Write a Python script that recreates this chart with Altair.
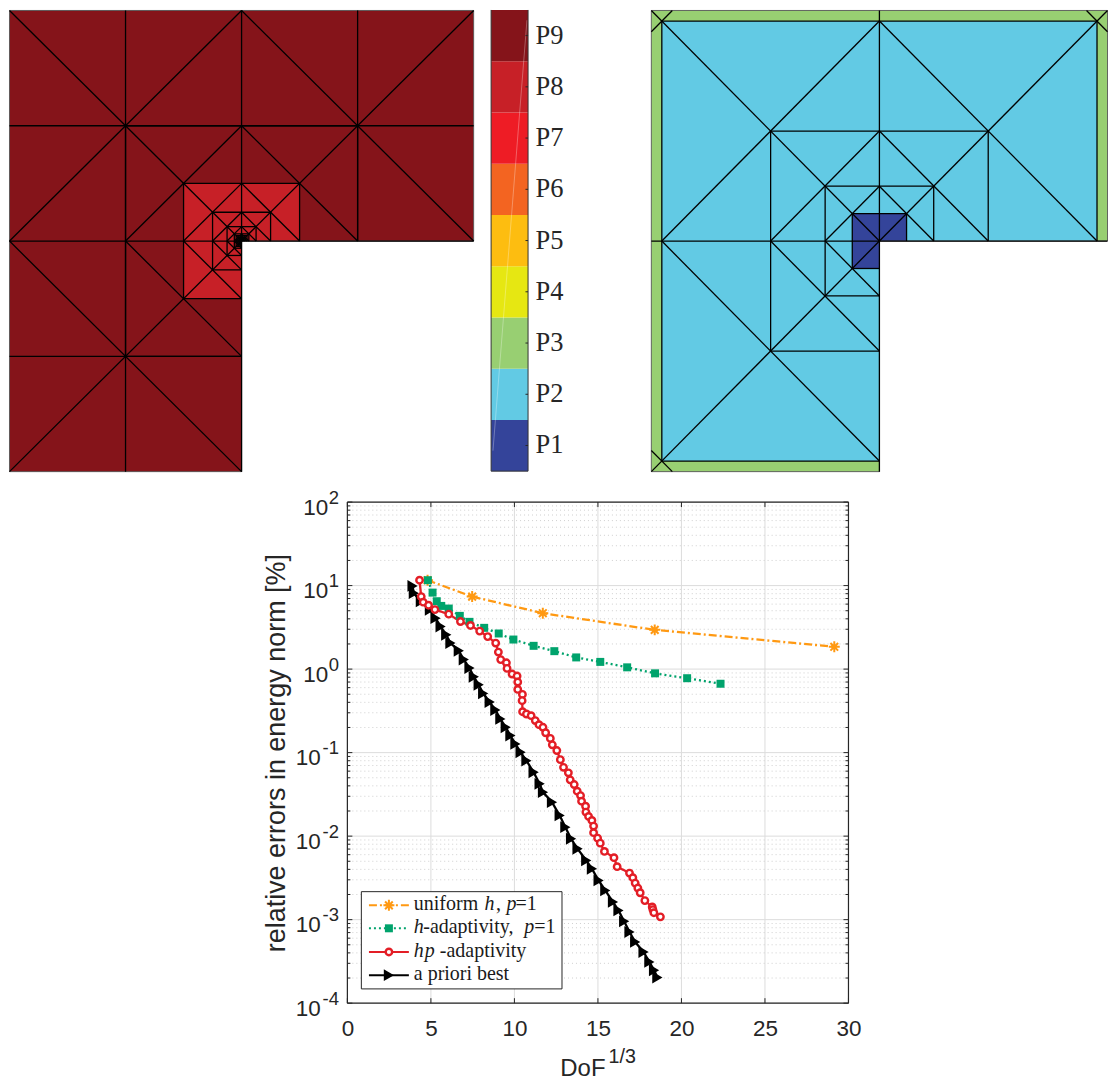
import altair as alt
import pandas as pd

# ---------- values ----------
uniform_x = [4.8, 7.47, 11.7, 18.4, 29.15]
uniform_y = [11.6, 7.38, 4.67, 2.95, 1.85]

hadapt_x = [4.82, 5.10, 5.35, 5.62, 6.07, 6.73, 7.31, 8.19, 9.06, 9.94, 11.15, 12.39, 13.70, 15.14, 16.75, 18.42, 20.34, 22.34]
hadapt_y = [11.6, 8.24, 6.50, 5.71, 5.31, 4.34, 3.68, 3.12, 2.67, 2.26, 1.90, 1.64, 1.38, 1.22, 1.05, 0.89, 0.778, 0.668]

hp_x = [4.32, 4.42, 4.54, 4.86, 5.24, 6.07, 6.77, 7.37, 7.92, 8.40, 8.88, 9.04, 9.18, 9.52, 9.56, 9.86, 10.16, 10.20, 10.20, 10.48,
        10.46, 10.49, 10.72, 11.00, 11.25, 11.47, 11.71, 11.87, 12.15, 12.27, 12.54, 12.75, 12.94, 13.23, 13.34, 13.58, 13.76, 13.96, 14.02, 14.26,
        14.28, 14.44, 14.64, 14.74, 14.74, 14.98, 15.14, 15.39, 15.96, 16.15, 16.89, 17.09, 17.23, 17.39, 17.53, 17.81, 18.25, 18.29, 18.35, 18.74]
hp_y = [11.6, 7.38, 6.33, 5.82, 5.16, 4.55, 3.71, 3.33, 2.85, 2.45, 2.05, 1.60, 1.30, 1.19, 1.02, 0.873, 0.826, 0.700, 0.571, 0.498,
        0.419, 0.309, 0.290, 0.277, 0.242, 0.216, 0.201, 0.173, 0.148, 0.124, 0.106, 0.0824, 0.0667, 0.0573, 0.0472, 0.0415, 0.0345, 0.0306, 0.0262, 0.0228,
        0.0194, 0.0172, 0.0154, 0.0132, 0.0110, 0.00946, 0.00824, 0.00656, 0.00552, 0.00431, 0.00361, 0.00318, 0.00274, 0.00239, 0.00210, 0.00169, 0.00142, 0.00132, 0.00121, 0.00108]

best_x = [3.90, 3.98, 4.40, 4.94, 5.28, 5.58, 5.92, 6.17, 6.67, 6.97, 7.31, 7.57, 7.86, 8.13, 8.52, 8.86, 9.16, 9.48, 9.76, 10.06, 10.37, 10.72,
          11.15, 11.51, 11.71, 12.25, 12.71, 13.05, 13.39, 13.78, 14.30, 14.64, 15.04, 15.44, 15.90, 16.23, 16.57, 16.89, 17.23, 17.73, 18.08, 18.36, 18.56]
best_y = [9.91, 8.11, 6.47, 5.12, 4.07, 3.24, 2.57, 2.05, 1.66, 1.30, 1.03, 0.809, 0.650, 0.512, 0.404, 0.324, 0.253, 0.201, 0.160, 0.127, 0.101, 0.0802,
          0.0582, 0.0423, 0.0336, 0.0255, 0.0177, 0.0128, 0.00931, 0.00706, 0.00512, 0.00407, 0.00295, 0.00224, 0.00163, 0.00129, 0.000955, 0.000711, 0.000541, 0.000410, 0.000312, 0.000248, 0.000203]

x_ticks = [0, 5, 10, 15, 20, 25, 30]
y_decades = [2, 1, 0, -1, -2, -3, -4]
minor_mult = [2, 3, 4, 5, 6, 7, 8, 9]

band_labels = ["P1", "P2", "P3", "P4", "P5", "P6", "P7", "P8", "P9"]
band_colors = ["#34449A", "#62CAE4", "#98CF72", "#E6E712", "#FDBD10", "#F36421", "#EE1C25", "#C72027", "#85141A"]

mesh1_levels = [1, 0.5, 0.25, 0.125, 0.0625, 0.03125, 0.0234, 0.0156, 0.0098, 0.0056, 0.0029]
mesh1_red_level = 0.25
mesh2_levels = [0.954, 0.477, 0.238, 0.119]

ORANGE, GREEN, RED, BLACK = "#FF9912", "#00A36C", "#E31E26", "#000000"
DARK = "#262626"
GRID = "#DCDCDC"
SANS = "Liberation Sans"
SERIF = "Liberation Serif"
STAR = "M0,-1L0,1M-1,0L1,0M-0.7,-0.7L0.7,0.7M-0.7,0.7L0.7,-0.7"

# ---------- layout (pixels) ----------
MESH1_W = 466
MESH2_W = 458
TOP_H = 463
PLOT = 502


def seg(x, y, x2, y2):
    return {"x": x, "y": y, "x2": x2, "y2": y2}


def level_segments(s, box=True, anti=True):
    out = []
    if box:
        out += [seg(-s, s, -s, -s), seg(-s, s, s, s), seg(s, s, s, 0), seg(-s, -s, 0, -s)]
    if anti:
        out += [seg(-s, 0, 0, s), seg(0, s, s, 0), seg(-s, 0, 0, -s)]
    return out


def l_rects(s, color):
    return [{"x": -s, "x2": s, "y": 0, "y2": s, "c": color},
            {"x": -s, "x2": 0, "y": -s, "y2": 0, "c": color}]


OUTLINE = [seg(-1, 1, 1, 1), seg(1, 1, 1, 0), seg(1, 0, 0, 0), seg(0, 0, 0, -1), seg(0, -1, -1, -1), seg(-1, -1, -1, 1)]
SPINES = [seg(0, 1, 0, -1), seg(-1, 0, 1, 0), seg(-1, 1, 0, 0), seg(1, 1, 0, 0), seg(-1, -1, 0, 0)]


def mesh(rects, segs, width):
    xs = alt.Scale(domain=[-1, 1], range=[0.5, width - 0.5], nice=False)
    ys = alt.Scale(domain=[-1, 1], range=[TOP_H - 0.5, 0.5], nice=False)
    fill = alt.Chart(pd.DataFrame(rects)).mark_rect().encode(
        x=alt.X("x:Q", scale=xs, axis=None), x2="x2:Q",
        y=alt.Y("y:Q", scale=ys, axis=None), y2="y2:Q",
        color=alt.Color("c:N", scale=None))
    outline = alt.Chart(pd.DataFrame(OUTLINE)).mark_rule(color="#555555", strokeWidth=0.9).encode(
        x=alt.X("x:Q", scale=xs, axis=None), x2="x2:Q",
        y=alt.Y("y:Q", scale=ys, axis=None), y2="y2:Q")
    lines = alt.Chart(pd.DataFrame(segs)).mark_rule(color="#000000", strokeWidth=1.3).encode(
        x=alt.X("x:Q", scale=xs, axis=None), x2="x2:Q",
        y=alt.Y("y:Q", scale=ys, axis=None), y2="y2:Q")
    return alt.layer(fill, outline, lines).properties(width=width, height=TOP_H)


# left mesh
segs1 = list(SPINES)
segs1 += [seg(-0.5, 1, -0.5, -1), seg(0.5, 1, 0.5, 0), seg(-1, 0.5, 1, 0.5), seg(-1, -0.5, 0, -0.5)]
for s in mesh1_levels:
    segs1 += level_segments(s, box=s < 1)
mesh1 = mesh(l_rects(1, band_colors[8]) + l_rects(mesh1_red_level, band_colors[7]), segs1, MESH1_W)

# right mesh
a = mesh2_levels[0]
c = 2 * a - 1
segs2 = list(SPINES)
segs2 += [seg(-1, c, -c, 1), seg(1, c, c, 1), seg(-1, -c, -c, -1)]
for s in mesh2_levels:
    segs2 += level_segments(s, anti=s != mesh2_levels[-1])
mesh2 = mesh(l_rects(1, band_colors[2]) + l_rects(a, band_colors[1]) + l_rects(mesh2_levels[-1], band_colors[0]), segs2, MESH2_W)

# colour bar
bands = pd.DataFrame({"y": range(9), "y2": range(1, 10), "mid": [i + 0.5 for i in range(9)],
                      "label": band_labels, "c": band_colors, "x": [0] * 9, "x2": [1] * 9, "tx": [1.2] * 9, "t": [0.93] * 9})
cx = alt.Scale(domain=[0, 1], range=[0, 37], nice=False)
cy = alt.Scale(domain=[0, 9], range=[462, 0], nice=False)
cb_rect = alt.Chart(bands).mark_rect().encode(
    x=alt.X("x:Q", scale=cx, axis=None), x2="x2:Q",
    y=alt.Y("y:Q", scale=cy, axis=None), y2="y2:Q", color=alt.Color("c:N", scale=None))
cb_tick = alt.Chart(bands).mark_rule(color=DARK, strokeWidth=1).encode(
    x=alt.X("t:Q", scale=cx, axis=None), x2="x2:Q", y=alt.Y("mid:Q", scale=cy, axis=None))
cb_text = alt.Chart(bands).mark_text(align="left", baseline="middle", font=SERIF, fontSize=26.5, color=DARK).encode(
    x=alt.X("tx:Q", scale=cx, axis=None), y=alt.Y("mid:Q", scale=cy, axis=None), text="label:N")
cb_frame = alt.Chart(pd.DataFrame([
    {"x": 0, "x2": 1, "y": 0, "y2": 0}, {"x": 0, "x2": 0, "y": 0, "y2": 9}, {"x": 1, "x2": 1, "y": 0, "y2": 9}
])).mark_rule(color="#333333", strokeWidth=1).encode(
    x=alt.X("x:Q", scale=cx, axis=None), x2="x2:Q", y=alt.Y("y:Q", scale=cy, axis=None), y2="y2:Q")
cb_streak = alt.Chart(pd.DataFrame([{"x": 0.97, "x2": 0.05, "y": 8.8, "y2": 0.4}])).mark_rule(
    color="#FFFFFF", opacity=0.3, strokeWidth=1).encode(
    x=alt.X("x:Q", scale=cx, axis=None), x2="x2:Q", y=alt.Y("y:Q", scale=cy, axis=None), y2="y2:Q")
colorbar = alt.layer(cb_rect, cb_streak, cb_frame, cb_tick, cb_text).properties(width=142.7, height=TOP_H)

# ---------- convergence plot ----------
X = alt.Scale(domain=[0, 30], nice=False)
Y = alt.Scale(type="log", domain=[1e-4, 100], nice=False)
AX_X = alt.Axis(title=None, values=x_ticks, labelFont=SANS, labelFontSize=22.5, labelColor=DARK, labelBaseline="alphabetic",
                labelPadding=32, labelFlush=False, domain=False, ticks=False, grid=False, format="d")
AX_Y = alt.Axis(title="relative errors in energy norm [%]", titleFont=SANS, titleFontSize=27, titleFontWeight="normal",
                titleColor=DARK, titlePadding=57, labels=False, domain=False, ticks=False, grid=False)


def xenc(f="x"):
    return alt.X(f"{f}:Q", scale=X, axis=AX_X)


def yenc(f="y"):
    return alt.Y(f"{f}:Q", scale=Y, axis=AX_Y)


majors = [10.0 ** e for e in y_decades]
minors = [m * 10.0 ** e for e in y_decades[1:] for m in minor_mult]
major_df = pd.DataFrame({"y": majors})
minor_df = pd.DataFrame({"y": minors})
xt_df = pd.DataFrame({"x": x_ticks})

grid_x = alt.Chart(xt_df).mark_rule(color=GRID, strokeWidth=1).encode(x=xenc())
grid_y = alt.Chart(major_df).mark_rule(color=GRID, strokeWidth=1).encode(y=yenc())
grid_m = alt.Chart(minor_df).mark_rule(color="#CFCFCF", strokeWidth=1, strokeDash=[1, 3]).encode(y=yenc())


def series(xs, ys, color, dash, width, point):
    df = pd.DataFrame({"x": xs, "y": ys, "o": range(len(xs))})
    line = alt.Chart(df).mark_line(color=color, strokeWidth=width, strokeDash=dash).encode(
        x=xenc(), y=yenc(), order="o:Q")
    return line, alt.Chart(df).mark_point(**point).encode(x=xenc(), y=yenc())


PT_U = dict(shape=STAR, size=121, filled=False, stroke=ORANGE, strokeWidth=2, opacity=1)
PT_H = dict(shape="square", size=64, filled=True, fill=GREEN, stroke=GREEN, strokeWidth=0, opacity=1)
PT_HP = dict(shape="circle", size=42, filled=True, fill="#FFFFFF", stroke=RED, strokeWidth=2.4, opacity=1)
PT_B = dict(shape="triangle-right", size=140, filled=True, fill=BLACK, strokeWidth=0, opacity=1)

u_l, u_p = series(uniform_x, uniform_y, ORANGE, [8, 3, 2, 3], 2.3, PT_U)
h_l, h_p = series(hadapt_x, hadapt_y, GREEN, [2, 3], 2.3, PT_H)
hp_l, hp_p = series(hp_x, hp_y, RED, [1, 0], 2.3, PT_HP)
b_l, b_p = series(best_x, best_y, BLACK, [1, 0], 2.3, PT_B)

# box and ticks pointing inwards
frame = [
    alt.Chart(xt_df.head(1)).mark_rule(color=DARK, strokeWidth=1.2).encode(
        x=alt.value(x1), x2=alt.value(x2), y=alt.value(y1), y2=alt.value(y2))
    for x1, x2, y1, y2 in [(0, PLOT, 0, 0), (0, PLOT, PLOT, PLOT), (0, 0, 0, PLOT), (PLOT, PLOT, 0, PLOT)]
]
ticks = [
    alt.Chart(xt_df).mark_rule(color=DARK, strokeWidth=1).encode(x=xenc(), y=alt.value(PLOT), y2=alt.value(PLOT - 5)),
    alt.Chart(xt_df).mark_rule(color=DARK, strokeWidth=1).encode(x=xenc(), y=alt.value(0), y2=alt.value(5)),
    alt.Chart(major_df).mark_rule(color=DARK, strokeWidth=1).encode(y=yenc(), x=alt.value(0), x2=alt.value(5)),
    alt.Chart(major_df).mark_rule(color=DARK, strokeWidth=1).encode(y=yenc(), x=alt.value(PLOT), x2=alt.value(PLOT - 5)),
    alt.Chart(minor_df).mark_rule(color=DARK, strokeWidth=1).encode(y=yenc(), x=alt.value(0), x2=alt.value(3)),
    alt.Chart(minor_df).mark_rule(color=DARK, strokeWidth=1).encode(y=yenc(), x=alt.value(PLOT), x2=alt.value(PLOT - 3)),
]

# y tick labels with raised exponents
ylab = pd.DataFrame({"y": majors, "base": ["10"] * 7, "exp": [str(e) for e in y_decades], "neg": [e < 0 for e in y_decades]})
base_pos = alt.Chart(ylab[~ylab["neg"]]).mark_text(
    align="right", baseline="alphabetic", font=SANS, fontSize=22.5, color=DARK, dx=-19.2, dy=12.7).encode(
    x=alt.value(0), y=yenc(), text="base:N")
base_neg = alt.Chart(ylab[ylab["neg"]]).mark_text(
    align="right", baseline="alphabetic", font=SANS, fontSize=22.5, color=DARK, dx=-26.7, dy=12.7).encode(
    x=alt.value(0), y=yenc(), text="base:N")
exps = alt.Chart(ylab).mark_text(
    align="right", baseline="alphabetic", font=SANS, fontSize=18.5, color=DARK, dx=-8.4, dy=1.5).encode(
    x=alt.value(0), y=yenc(), text="exp:N")

# x title with raised exponent
xt = pd.DataFrame({"t": ["DoF"], "e": ["1/3"]})
dof = alt.Chart(xt).mark_text(align="left", baseline="alphabetic", font=SANS, fontSize=24, color=DARK).encode(
    x=alt.value(213.3), y=alt.value(574.7), text="t:N")
dof_e = alt.Chart(xt).mark_text(align="left", baseline="alphabetic", font=SANS, fontSize=19.7, color=DARK).encode(
    x=alt.value(261.6), y=alt.value(562), text="e:N")

# legend drawn by hand (its labels mix upright and italic type)
legend_box = alt.Chart(xt).mark_rect(fill="#FFFFFF", stroke=DARK, strokeWidth=1).encode(
    x=alt.value(14), x2=alt.value(215), y=alt.value(390.3), y2=alt.value(487.7))
legend_rows = [
    (404, ORANGE, [8, 3, 2, 3], PT_U),
    (427, GREEN, [2, 3], PT_H),
    (450.7, RED, [1, 0], PT_HP),
    (474, BLACK, [1, 0], PT_B),
]
legend_layers = [legend_box]
for ry, col, dash, pt in legend_rows:
    legend_layers.append(alt.Chart(xt).mark_rule(color=col, strokeWidth=2, strokeDash=dash).encode(
        x=alt.value(21.6), x2=alt.value(61.6), y=alt.value(ry)))
    legend_layers.append(alt.Chart(xt).mark_point(**pt).encode(x=alt.value(41.6), y=alt.value(ry)))
legend_text = pd.DataFrame([
    (66.6, 409, "uniform", "normal"), (137.3, 409, "h", "italic"), (149, 409, ",", "normal"), (159.3, 409, "p", "italic"), (168.3, 409, "=1", "normal"),
    (66.6, 432, "h", "italic"), (76, 432, "-adaptivity,", "normal"), (177.3, 432, "p", "italic"), (187.3, 432, "=1", "normal"),
    (66.6, 455.7, "h", "italic"), (77.5, 455.7, "p", "italic"), (92.6, 455.7, "-adaptivity", "normal"),
    (66.6, 479, "a priori best", "normal"),
], columns=["px", "py", "t", "s"])
for style in ["normal", "italic"]:
    for _, r in legend_text[legend_text["s"] == style].iterrows():
        legend_layers.append(alt.Chart(xt).mark_text(
            align="left", baseline="alphabetic", font=SERIF, fontSize=20, fontStyle=style, color="#1A1A1A", text=r["t"]
        ).encode(x=alt.value(r["px"]), y=alt.value(r["py"])))

plot = alt.layer(
    grid_x, grid_y, grid_m,
    u_l, h_l, b_l, hp_l, u_p, h_p, b_p, hp_p,
    *frame, *ticks, base_pos, base_neg, exps, dof, dof_e, *legend_layers
).properties(width=PLOT, height=PLOT)

spacer = alt.Chart(xt).mark_point(opacity=0).encode(x=alt.value(100), y=alt.value(100)).properties(width=338.7, height=PLOT)

top = alt.hconcat(mesh1, colorbar, mesh2, spacing=17, bounds="flush")
bottom = alt.hconcat(spacer, plot, spacing=0, bounds="flush")
chart = alt.vconcat(top, bottom, spacing=15).properties(
    padding=0, background="#FFFFFF").configure_view(stroke=None)

chart.save("out.html", embed_options={"renderer": "svg", "actions": False})
